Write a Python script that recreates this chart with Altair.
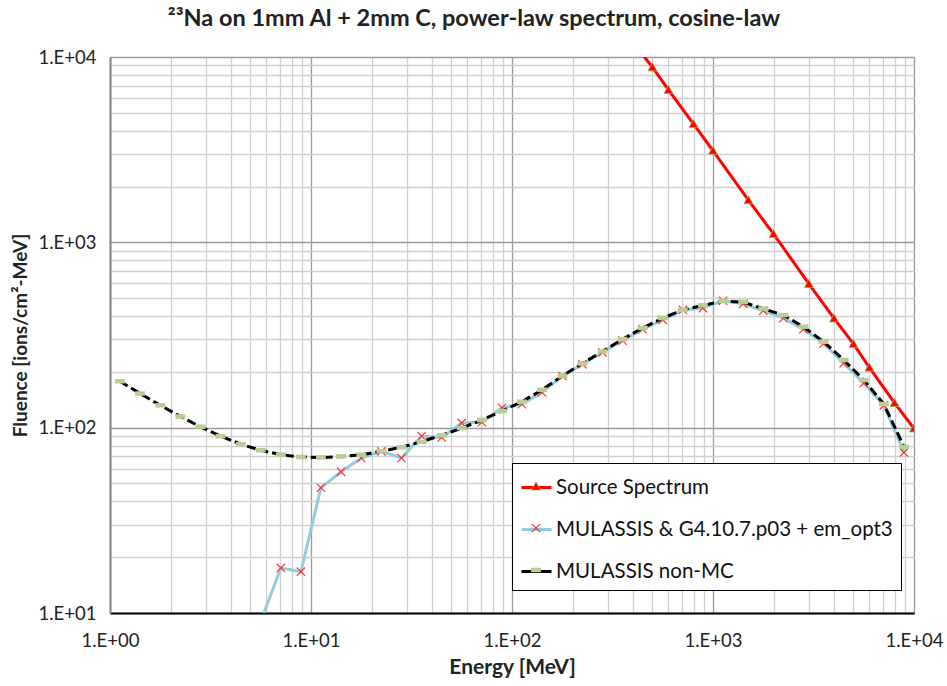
import altair as alt
import pandas as pd

SERIES = ["Source Spectrum", "MULASSIS & G4.10.7.p03 + em_opt3", "MULASSIS non-MC"]
MARKER_KEYS = ["1", "2", "3"]

# Source spectrum (power law)
E_SRC = [400, 500, 600, 800, 1000, 1500, 2000, 3000, 4000, 5000, 6000, 8000, 10000]
F_SRC = [12000, 8800, 6650, 4350, 3120, 1690, 1110, 597, 389, 283, 211, 136, 99]

# MULASSIS & Geant4 (Monte Carlo)
E_MC = [5.62, 7.08, 8.91, 11.2, 14.1, 17.8, 22.4, 28.2, 35.5, 44.7, 56.2, 70.8, 89.1,
        112, 141, 178, 224, 282, 355, 447, 562, 708, 891, 1122, 1413, 1778, 2239,
        2818, 3548, 4467, 5623, 7079, 8913]
F_MC = [9.0, 17.5, 16.7, 47.4, 57.8, 68.5, 74.5, 68.6, 90, 88.5, 106, 107, 128,
        134, 155, 190, 220, 255, 295, 340, 382, 432, 442, 484, 466, 428, 390,
        340, 284, 223, 174, 132, 73.5]

# MULASSIS non-MC
E_NMC = [1.12, 1.41, 1.78, 2.24, 2.82, 3.55, 4.47, 5.62, 7.08, 8.91, 11.2, 14.1, 17.8,
         22.4, 28.2, 35.5, 44.7, 56.2, 70.8, 89.1, 112, 141, 178, 224, 282, 355, 447,
         562, 708, 891, 1122, 1413, 1778, 2239, 2818, 3548, 4467, 5623, 7079, 8913]
F_NMC = [178, 153, 132, 115, 101, 90, 81.5, 75.5, 71.5, 69.5, 69, 69.8, 71.5,
         74.5, 78.5, 84, 91, 99.5, 110, 123, 138, 160, 190, 222, 258, 300, 345,
         390, 432, 457, 482, 476, 438, 405, 350, 291, 232, 181, 134, 79]

LINE_COLORS = ["#ff0000", "#92cddc", "#000000"]
LINE_DASHES = [[1, 0], [1, 0], [9, 4]]
MARKER_PATHS = [
    "M0,-0.3L0.3,0.24L-0.3,0.24Z",
    "M-0.28,-0.28L0.28,0.28M-0.28,0.28L0.28,-0.28",
    "M-0.28,-0.1H0.28V0.1H-0.28Z",
]
MARKER_FILLS = ["#ff0000", "transparent", "#b7cf93"]
MARKER_STROKES = ["#9bbb59", "#ff3030", "#b7cf93"]
MARKER_WIDTHS = [0.8, 1.5, 0.8]

X_GRID = [m * 10 ** k for k in range(4) for m in range(1, 10)] + [10000]
Y_GRID = [m * 10 ** k for k in range(1, 4) for m in range(1, 10)] + [10000]

FONT = "Lato"

rows = []
for name, key, es, fs in zip(SERIES, MARKER_KEYS, [E_SRC, E_MC, E_NMC], [F_SRC, F_MC, F_NMC]):
    for e, f in zip(es, fs):
        rows.append({"series": name, "marker": key, "E": e, "F": f})
df = pd.DataFrame(rows)

MAJOR_TEST = "indexof([1,10,100,1000,10000], datum.value) >= 0"
LABEL_EXPR = MAJOR_TEST + " ? '1.E+0' + round(log(datum.value) / LN10) : ''"
GRID_COLOR = {"condition": {"test": MAJOR_TEST, "value": "#9a9a9a"}, "value": "#cfcfcf"}

x_enc = alt.X(
    "E:Q",
    scale=alt.Scale(type="log", domain=[1, 10000], nice=False),
    axis=alt.Axis(
        values=X_GRID, labelExpr=LABEL_EXPR, labelOverlap=False, labelBound=False,
        labelFlush=False,
        title="Energy [MeV]", titleFont=FONT, titleFontSize=21, titleFontWeight="bold",
        titleColor="#222", titlePadding=7,
        labelFont=FONT, labelFontSize=18.5, labelColor="#222", labelPadding=18,
        tickSize=0, grid=True, gridColor=GRID_COLOR, gridWidth=1.3,
        domainColor="#000000", domainWidth=2,
    ),
)
y_enc = alt.Y(
    "F:Q",
    scale=alt.Scale(type="log", domain=[10, 10000], nice=False),
    axis=alt.Axis(
        values=Y_GRID, labelExpr=LABEL_EXPR, labelOverlap=False, labelBound=False,
        labelFlush=False,
        title="Fluence [ions/cm²-MeV]", titleFont=FONT, titleFontSize=19,
        titleFontWeight="bold", titleColor="#222", titlePadding=8,
        labelFont=FONT, labelFontSize=18.5, labelColor="#222", labelPadding=14,
        tickSize=0, grid=True, gridColor=GRID_COLOR, gridWidth=1.3,
        domainColor="#868686", domainWidth=2,
    ),
)

LEG_X = 402
LEG_Y = 406
LEG_COMMON = dict(
    title=None, orient="none", legendX=LEG_X, legendY=LEG_Y,
    symbolSize=900, labelFont=FONT, labelFontSize=20.5, labelLimit=600,
    labelOffset=3, rowPadding=15, padding=8,
)

line_legend = alt.Legend(
    symbolType="stroke", symbolStrokeWidth=3, labelColor="#111",
    fillColor="white", strokeColor="black", zindex=1, **LEG_COMMON,
)

lines = alt.Chart(df).mark_line(clip=True, strokeWidth=3).encode(
    x=x_enc,
    y=y_enc,
    color=alt.Color("series:N", scale=alt.Scale(domain=SERIES, range=LINE_COLORS), legend=line_legend),
    strokeDash=alt.StrokeDash("series:N", scale=alt.Scale(domain=SERIES, range=LINE_DASHES), legend=line_legend),
)

pt_legend = alt.Legend(
    symbolStrokeWidth=1.2, labelOpacity=0, labelExpr="' '",
    strokeColor="transparent", zindex=2, **LEG_COMMON,
)

points = alt.Chart(df).mark_point(clip=True, size=900, opacity=1).encode(
    x=x_enc,
    y=y_enc,
    shape=alt.Shape("marker:N", scale=alt.Scale(domain=MARKER_KEYS, range=MARKER_PATHS), legend=pt_legend),
    fill=alt.Fill("marker:N", scale=alt.Scale(domain=MARKER_KEYS, range=MARKER_FILLS), legend=pt_legend),
    stroke=alt.Stroke("marker:N", scale=alt.Scale(domain=MARKER_KEYS, range=MARKER_STROKES), legend=pt_legend),
    strokeWidth=alt.StrokeWidth("marker:N", scale=alt.Scale(domain=MARKER_KEYS, range=MARKER_WIDTHS), legend=None),
)

chart = alt.layer(lines, points).resolve_scale(
    color="independent"
).properties(
    width=804,
    height=556,
    autosize=alt.AutoSizeParams(type="none"),
    padding={"left": 110, "top": 57, "right": 33, "bottom": 73},
    title=alt.TitleParams(
        text="²³Na on 1mm Al + 2mm C, power-law spectrum, cosine-law",
        font=FONT, fontSize=23.5, fontWeight="bold", color="#222",
        anchor="middle", frame="group", dx=-38, offset=18,
    ),
).configure_view(
    stroke="black", strokeWidth=2.5
).configure_legend(
    strokeWidth=2
).configure(background="white")

chart.save("out.html", embed_options={"renderer": "svg", "actions": False})
